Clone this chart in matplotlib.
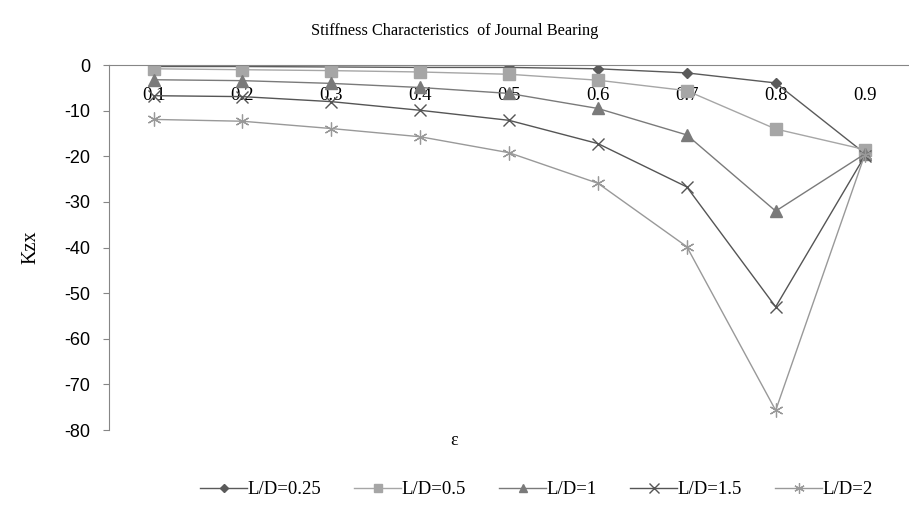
import numpy as np
import matplotlib
matplotlib.use("Agg")
import matplotlib.pyplot as plt

# data
eps = ["0.1", "0.2", "0.3", "0.4", "0.5", "0.6", "0.7", "0.8", "0.9"]
kzx_025 = [-0.3, -0.3, -0.4, -0.5, -0.5, -0.8, -1.7, -3.9, -19.3]
kzx_05 = [-0.8, -1.0, -1.2, -1.5, -2.0, -3.3, -5.6, -14.0, -18.5]
kzx_1 = [-3.2, -3.4, -4.0, -4.9, -6.2, -9.5, -15.3, -32.0, -19.5]
kzx_15 = [-6.7, -6.9, -8.0, -9.9, -12.1, -17.2, -26.7, -53.0, -20.0]
kzx_2 = [-11.9, -12.3, -13.9, -15.7, -19.2, -25.9, -39.8, -75.7, -19.8]
labels = ["L/D=0.25", "L/D=0.5", "L/D=1", "L/D=1.5", "L/D=2"]

serif = "Liberation Serif"
sans = "Liberation Sans"
plt.rcParams["axes.unicode_minus"] = False

fig = plt.figure(figsize=(9.09, 5.05), dpi=100)
ax = fig.add_axes([0.12, 0.1485, 0.88, 0.7225])

x = np.arange(len(eps))
series = [kzx_025, kzx_05, kzx_1, kzx_15, kzx_2]
styles = [
    dict(color="#5a5a5a", marker="D", ms=5.5, mfc="#5a5a5a", mec="#5a5a5a"),
    dict(color="#a6a6a6", marker="s", ms=8, mfc="#a6a6a6", mec="#a6a6a6"),
    dict(color="#7a7a7a", marker="^", ms=8, mfc="#7a7a7a", mec="#7a7a7a"),
    dict(color="#555555", marker="x", ms=9, mew=1.0),
    dict(color="#999999", marker=(6, 2, 0), ms=10, mew=0.9),
]
for vals, lab, st in zip(series, labels, styles):
    ax.plot(x, vals, lw=1.0, label=lab, **st)

ax.set_xlim(-0.5, 8.5)
ax.set_ylim(-80, 0)
ax.set_yticks(np.arange(-80, 1, 10))
ax.set_xticks(x)
ax.set_xticklabels(eps)

ax.spines["top"].set_visible(False)
ax.spines["right"].set_visible(False)
ax.spines["bottom"].set_position(("data", 0))
ax.spines["bottom"].set_color("#868686")
ax.spines["left"].set_color("#868686")
ax.tick_params(axis="x", length=0, pad=16, labelsize=13.5)
ax.tick_params(axis="y", length=4.5, color="#868686", pad=9, labelsize=13)
for t in ax.get_xticklabels():
    t.set_fontfamily(serif)
for t in ax.get_yticklabels():
    t.set_fontfamily(sans)

ax.set_ylabel("Kzx", fontfamily=serif, fontsize=14.5, labelpad=17)
fig.text(0.5, 0.128, "ε", fontfamily=serif, fontsize=13, ha="center", va="center")
fig.suptitle("Stiffness Characteristics  of Journal Bearing", x=0.5, y=0.955,
             fontfamily=serif, fontsize=11.7)

fig.legend(loc="center", bbox_to_anchor=(0.59, 0.03), ncol=5, frameon=False,
           prop={"family": serif, "size": 13.5}, handlelength=2.5, handletextpad=0.0,
           columnspacing=1.8, markerscale=0.75)

fig.savefig("out.png", dpi=100)
